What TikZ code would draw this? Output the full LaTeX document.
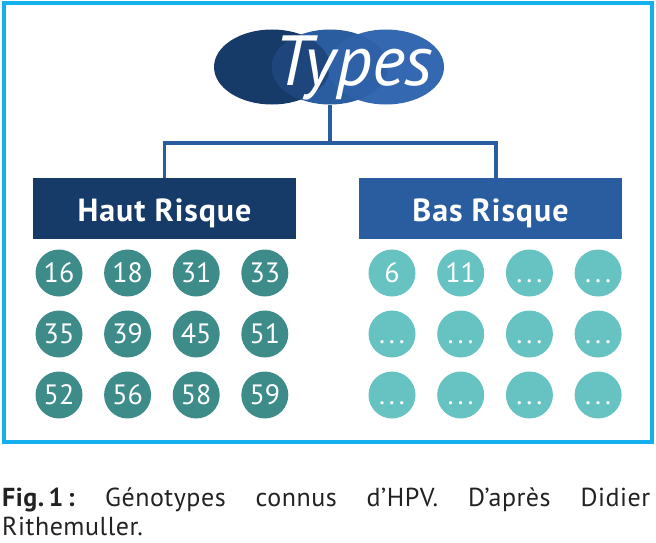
\documentclass[tikz,border=0pt]{standalone}
\usepackage{fontspec}
\setmainfont{PT Sans}
\usetikzlibrary{shapes.geometric}
\definecolor{frameblue}{HTML}{14B0EE}
\definecolor{navy}{HTML}{173B69}
\definecolor{navymid}{HTML}{1F467C}
\definecolor{midblue}{HTML}{2A5CA0}
\definecolor{midlight}{HTML}{2F61A8}
\definecolor{lightblue}{HTML}{3468B0}
\definecolor{tealdark}{HTML}{3D8C8A}
\definecolor{teallight}{HTML}{67C2C2}
\definecolor{captext}{HTML}{222222}
\newcommand\myellip{\vphantom{1}.\kern4pt.\kern4pt.}
\tikzset{
  x=1pt,y=-1pt,
  ell/.style={ellipse,minimum width=116pt,minimum height=75pt,inner sep=0pt},
  riskbox/.style={rectangle,minimum width=263pt,minimum height=61pt,inner sep=0pt},
  risklabel/.style={text=white,inner sep=0pt,font=\fontsize{32}{32}\selectfont\bfseries\addfontfeatures{LetterSpace=3}},
  conn/.style={midblue,line width=3.5pt},
  dot/.style={circle,minimum size=47pt,inner sep=0pt,text=white,font=\fontsize{28}{28}\selectfont},
  hdot/.style={dot,fill=tealdark},
  bdot/.style={dot,fill=teallight},
  captxt/.style={anchor=base west,inner sep=0pt,text=captext,font=\fontsize{26}{29}\selectfont\addfontfeatures{LetterSpace=2}},
}
\begin{document}
\begin{tikzpicture}
\useasboundingbox (0,0) rectangle (656,543);
\draw[frameblue,line width=4pt] (4,3) rectangle (652,442);
% ellipses
\node[ell,fill=navy] (e1) at (272,67) {};
\node[ell,fill=midblue] (e2) at (330,67) {};
\node[ell,fill=lightblue] (e3) at (386,67) {};
\begin{scope}
  \clip (272,67) ellipse [x radius=58pt,y radius=37.5pt];
  \fill[navymid] (330,67) ellipse [x radius=58pt,y radius=37.5pt];
\end{scope}
\begin{scope}
  \clip (330,67) ellipse [x radius=58pt,y radius=37.5pt];
  \fill[midlight] (386,67) ellipse [x radius=58pt,y radius=37.5pt];
\end{scope}
\node[text=white,font=\fontsize{71}{71}\selectfont\itshape,inner sep=0pt] (types) at (354,68) {Types};
% boxes
\node[riskbox,fill=navy] (haut) at (164.5,208.5) {};
\node[riskbox,fill=midblue] (bas) at (490.5,208.5) {};
\node[risklabel,anchor=base] (hautlab) at (164.5,221) {Haut Risque};
\node[risklabel,anchor=base] (baslab) at (490.5,221) {Bas Risque};
\coordinate (hj) at (330,143);
\draw[conn] (e2.south) -- (hj);
\draw[conn] (haut.north) |- (hj) -| ([xshift=5.5pt]bas.north);
% circles
\foreach \lab [count=\i from 0] in {16,18,31,33,35,39,45,51,52,56,58,59}{
  \pgfmathtruncatemacro{\c}{mod(\i,4)}
  \pgfmathtruncatemacro{\r}{div(\i,4)}
  \node[hdot] (h\i) at ({59+68.6*\c},{273+61*\r}) {\lab};
}
\foreach \lab [count=\i from 0] in {6,11,\myellip,\myellip,\myellip,\myellip,\myellip,\myellip,\myellip,\myellip,\myellip,\myellip}{
  \pgfmathtruncatemacro{\c}{mod(\i,4)}
  \pgfmathtruncatemacro{\r}{div(\i,4)}
  \node[bdot] (b\i) at ({392+68.7*\c},{273+61*\r}) {\lab};
}
% caption
\node[captxt] (cap1) at (2,506)
  {\makebox[648pt][s]{\mbox{\textbf{Fig.\,1\,:}} Génotypes connus d’HPV. D’après Didier}};
\node[captxt] (cap2) at (2,535) {Rithemuller.};
\end{tikzpicture}
\end{document}
